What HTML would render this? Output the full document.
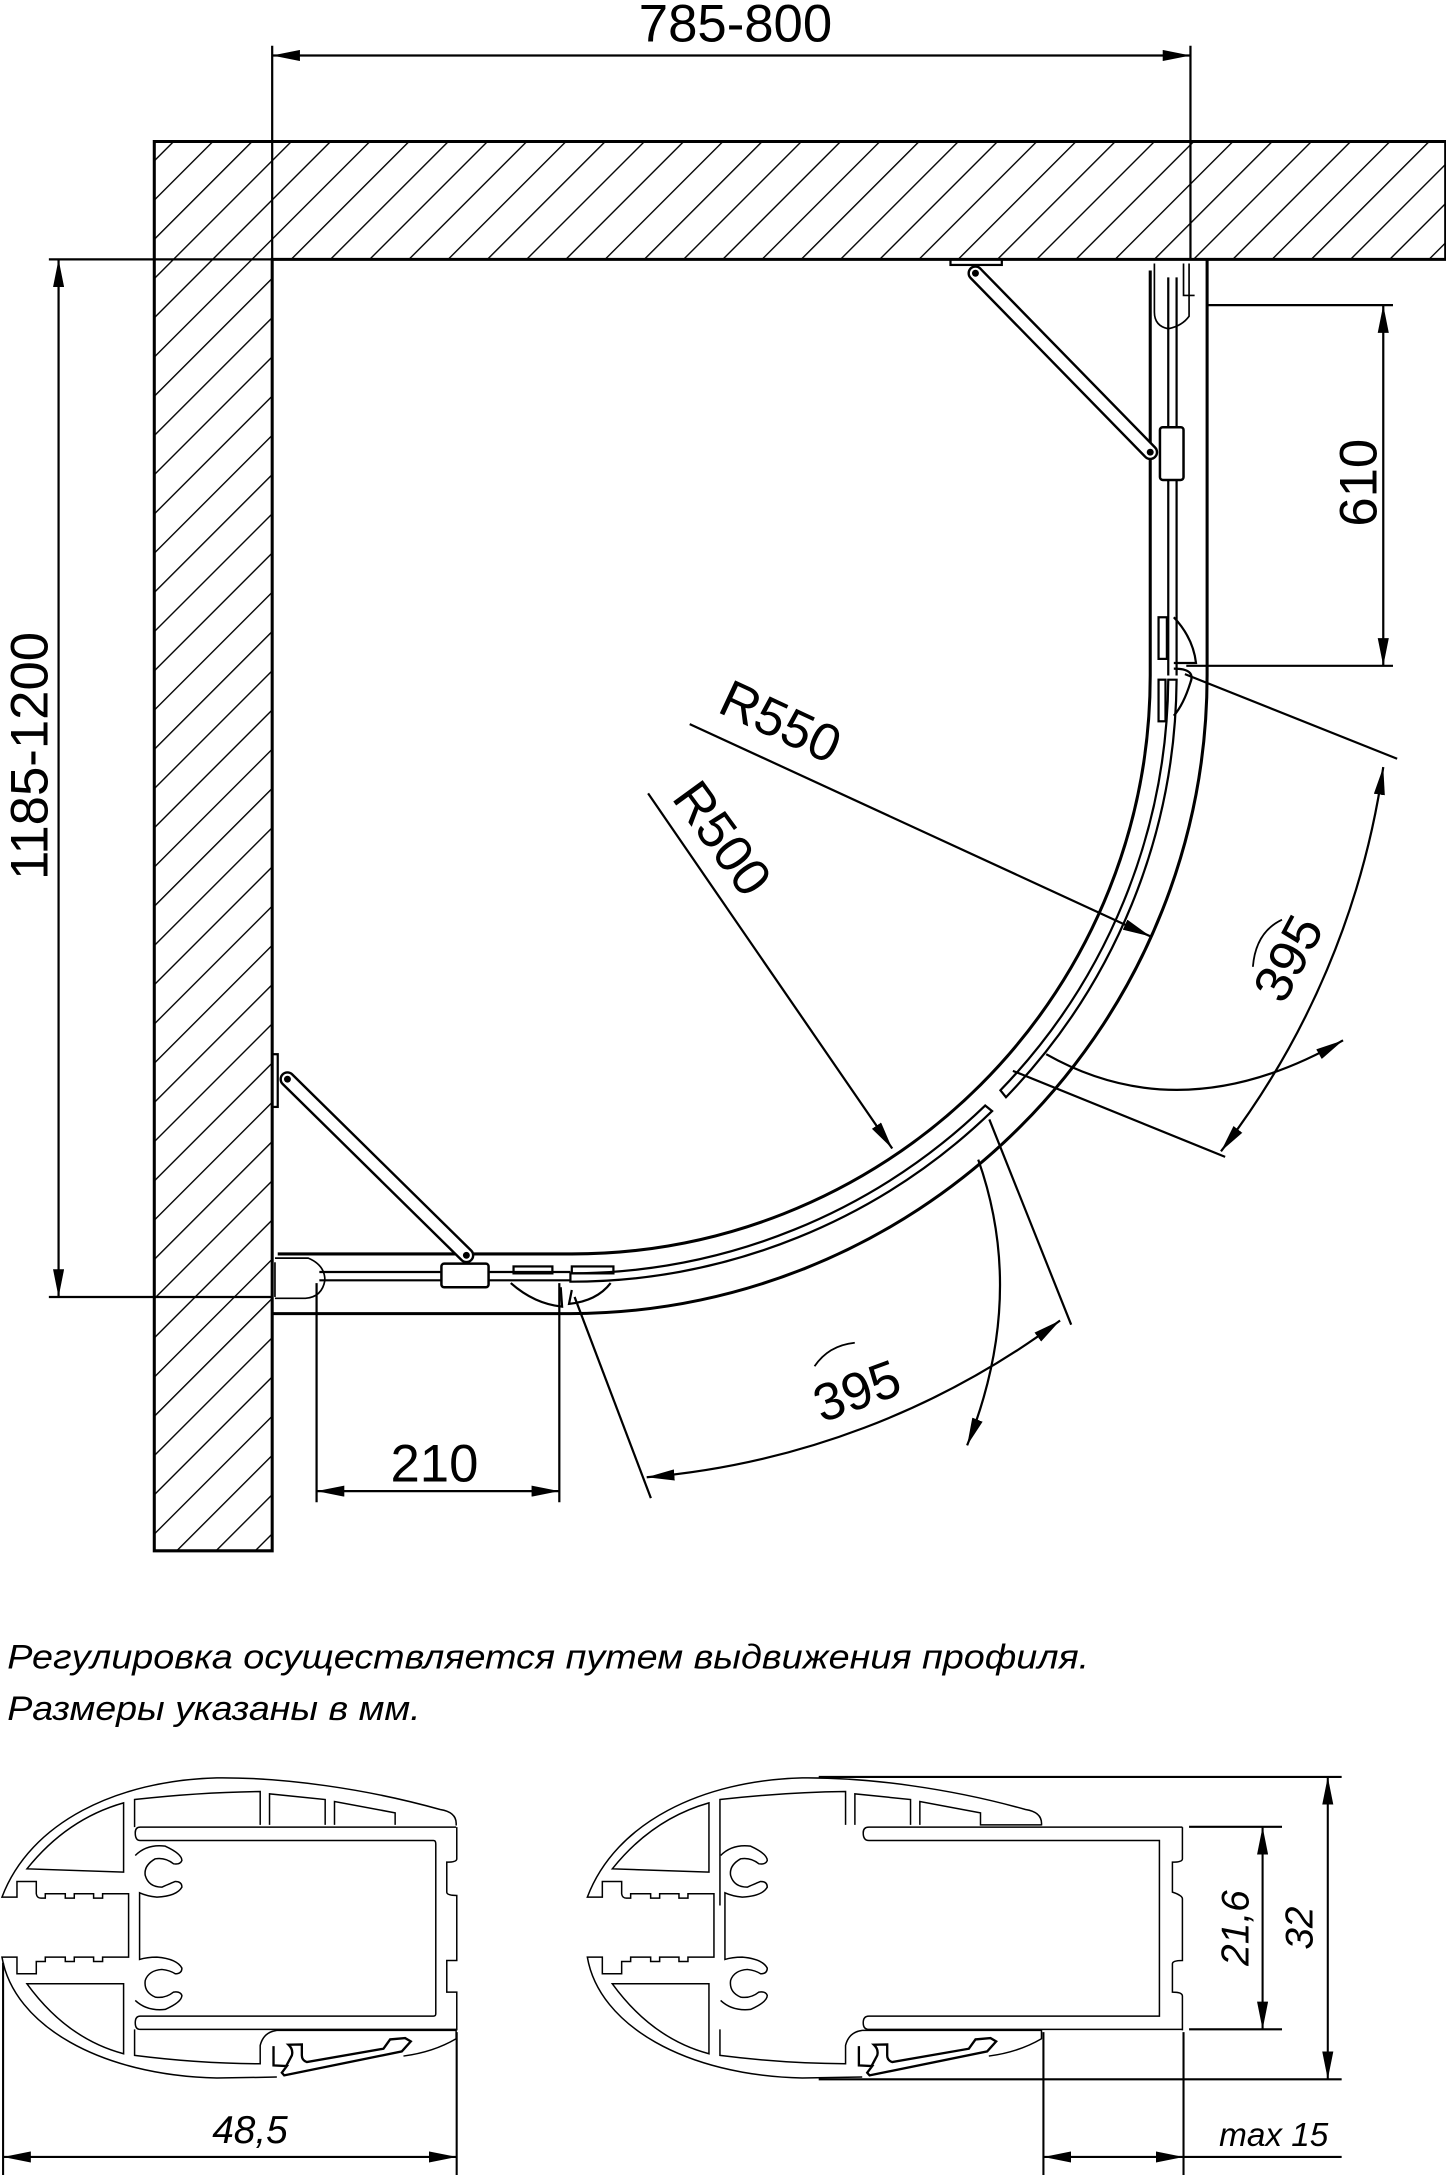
<!DOCTYPE html>
<html><head><meta charset="utf-8"><style>
html,body{margin:0;padding:0;background:#fff;}
svg{display:block;}
text{font-family:"Liberation Sans",sans-serif;fill:#000;}
</style></head><body>
<svg width="1446" height="2175" viewBox="0 0 1042 1568" xmlns="http://www.w3.org/2000/svg">
<defs>
<pattern id="h" width="20" height="20" patternUnits="userSpaceOnUse" patternTransform="rotate(45)">
<line x1="0" y1="-5" x2="0" y2="30" stroke="#000" stroke-width="2"/>
</pattern>
<marker id="a" viewBox="0 0 20 8" refX="20" refY="4" markerWidth="20" markerHeight="8" markerUnits="userSpaceOnUse" orient="auto-start-reverse">
<path d="M0,0 L20,4 L0,8 Z" fill="#000"/>
</marker>
</defs>

<path d="M111,102 H1042 V187 H196 V1118 H111 Z" fill="url(#h)" stroke="#000" stroke-width="2.2"/>

<g fill="none" stroke="#000" stroke-width="1.6">
<line x1="196" y1="33" x2="196" y2="187"/>
<line x1="858" y1="33" x2="858" y2="187"/>
<line x1="196" y1="40" x2="858" y2="40" marker-start="url(#a)" marker-end="url(#a)"/>
<line x1="35" y1="187" x2="196" y2="187"/>
<line x1="35" y1="935" x2="196" y2="935"/>
<line x1="42" y1="187" x2="42" y2="935" marker-start="url(#a)" marker-end="url(#a)"/>
<line x1="870" y1="220" x2="1004" y2="220"/>
<line x1="855" y1="480" x2="1004" y2="480"/>
<line x1="997" y1="220" x2="997" y2="480" marker-start="url(#a)" marker-end="url(#a)"/>
<line x1="228" y1="925" x2="228" y2="1083"/>
<line x1="403" y1="925" x2="403" y2="1083"/>
<line x1="228" y1="1075" x2="403" y2="1075" marker-start="url(#a)" marker-end="url(#a)"/>

<path d="M829,195 V487 A417,417 0 0 1 411,904 H200" stroke-width="2.2"/>
<path d="M870,187 V487 A460,460 0 0 1 411,947 H196" stroke-width="2.2"/>
<path d="M842,200 V487 M848,200 V487"/>
<path d="M230,917 H411 M230,923 H411"/>
<path d="M842,490 A431,431 0 0 1 721,786 L725,791 A437,437 0 0 0 848,490 Z"/>
<path d="M710,797 A431,431 0 0 1 411,918 L411,924 A437,437 0 0 0 715,801 Z"/>
<rect x="835" y="445" width="6" height="30"/>
<path d="M846,445 Q860,460 862,478 L846,478"/>
<rect x="835" y="490" width="5" height="30"/>
<path d="M846,482 Q862,482 858,492 Q853,508 846,516"/>
<rect x="370" y="913" width="28" height="5"/>
<rect x="412" y="913" width="30" height="5"/>
<path d="M368,925 Q385,940 405,942 L404,928"/>
<path d="M412,930 L410,940 Q430,938 440,925"/>
<rect x="836" y="308" width="17" height="38" rx="2" fill="#fff" stroke-width="1.8"/>
<rect x="318" y="911" width="34" height="17" rx="2" fill="#fff" stroke-width="1.8"/>
<path d="M832,190 V225 Q832,235 842,237 Q852,235 857,228 V190" stroke-width="1.2"/>
<path d="M853,190 V213 H861" stroke-width="1.2"/>
<path d="M198,907 H222 Q234,912 234,923 Q232,935 220,936 H198" stroke-width="1.2"/>
<path d="M198,910 V935" stroke-width="1.2"/>
<rect x="685" y="187" width="37" height="4"/>
<rect x="196" y="760" width="4" height="38"/>
</g>

<g stroke-linecap="round">
<line x1="703" y1="197" x2="829" y2="326" stroke="#000" stroke-width="11.5"/>
<line x1="703" y1="197" x2="829" y2="326" stroke="#fff" stroke-width="8"/>
<line x1="207" y1="778" x2="336" y2="905" stroke="#000" stroke-width="11.5"/>
<line x1="207" y1="778" x2="336" y2="905" stroke="#fff" stroke-width="8"/>
</g>
<g fill="#000">
<circle cx="703" cy="197" r="2.5"/><circle cx="829" cy="326" r="2.5"/>
<circle cx="207" cy="778" r="2.5"/><circle cx="336" cy="905" r="2.5"/>
</g>

<g fill="none" stroke="#000" stroke-width="1.6">
<line x1="497" y1="522" x2="829" y2="675" marker-end="url(#a)"/>
<line x1="467" y1="572" x2="643" y2="828" marker-end="url(#a)"/>
<line x1="854" y1="486" x2="1007" y2="547"/>
<line x1="730" y1="772" x2="883" y2="834"/>
<path d="M997,553 A590,590 0 0 1 880,830" marker-start="url(#a)" marker-end="url(#a)"/>
<path d="M754,760 Q853,816 968,750" marker-end="url(#a)"/>
<path d="M924,663 Q905,672 903,697" stroke-width="1.3"/>
<line x1="414" y1="935" x2="469" y2="1080"/>
<line x1="713" y1="807" x2="772" y2="955"/>
<path d="M466,1065 A582,582 0 0 0 764,952" marker-start="url(#a)" marker-end="url(#a)"/>
<path d="M705,836 Q740,935 697,1042" marker-end="url(#a)"/>
<path d="M587,985 Q597,970 616,968" stroke-width="1.3"/>
</g>

<text x="530" y="30" font-size="38" text-anchor="middle">785-800</text>
<text transform="translate(34,545) rotate(-90)" font-size="38" text-anchor="middle">1185-1200</text>
<text transform="translate(992,348) rotate(-90)" font-size="38" text-anchor="middle">610</text>
<text x="313" y="1068" font-size="38" text-anchor="middle">210</text>
<text transform="translate(557,532) rotate(25)" font-size="38" text-anchor="middle">R550</text>
<text transform="translate(510,612) rotate(54)" font-size="38" text-anchor="middle">R500</text>
<text transform="translate(940,697) rotate(-62)" font-size="38" text-anchor="middle">395</text>
<text transform="translate(622,1015) rotate(-20)" font-size="38" text-anchor="middle">395</text>

<text x="5" y="1203" font-size="25" font-style="italic" textLength="780" lengthAdjust="spacingAndGlyphs">Регулировка осуществляется путем выдвижения профиля.</text>
<text x="5" y="1240" font-size="25" font-style="italic" textLength="298" lengthAdjust="spacingAndGlyphs">Размеры указаны в мм.</text>

<g transform="translate(0,1268) scale(0.2402)" fill="none" stroke="#000" stroke-width="4.5">
<path d="M1368,200 Q1372,160 1320,152 C1100,90 850,55 650,57 C350,65 90,190 5,415 L50,415 L50,368 L108,368 L108,405 Q110,418 122,418 L135,418 L135,405 L195,405 L195,418 L222,418 L222,405 L280,405 L280,418 L307,418 L307,405 L385,405 L385,595 L307,595 L307,608 L280,608 L280,595 L222,595 L222,608 L195,608 L195,595 L135,595 L135,608 L108,608 L108,645 L50,645 L50,595 L5,595 C40,800 300,950 650,958 L830,955"/>
<path d="M80,330 Q200,180 370,132 L370,340 Z"/>
<path d="M80,675 L370,675 L370,885 Q200,840 80,675 Z"/>
<path d="M403,205 L403,122 Q600,100 780,98 L780,198 M808,198 L808,105 L975,122 L975,198 M1003,198 L1003,128 L1185,162 L1185,198"/>
<path d="M1368,205 L420,205 Q405,205 405,222 Q405,245 420,245 L1300,245 Q1307,245 1307,255 L1307,765 Q1307,772 1300,772 L420,772 Q405,772 405,792 Q405,812 420,812 L1368,812"/>
<path d="M1370,205 L1370,300 Q1370,310 1340,310 L1340,400 Q1340,410 1370,410 L1370,605 L1340,605 L1340,700 L1370,700 L1370,815"/>
<path d="M405,290 Q440,255 495,262 Q545,285 545,305 Q540,318 520,315 Q495,295 465,300 Q430,320 435,350 Q445,385 485,385 Q515,372 525,368 Q545,368 545,385 Q530,412 470,415 Q440,412 418,402 L418,602 Q440,595 470,595 Q530,600 545,628 Q545,645 525,645 Q510,635 485,632 Q445,635 435,665 Q430,700 465,715 Q495,720 520,700 Q540,697 545,710 Q545,730 495,752 Q440,758 405,725"/>
<path d="M403,812 L403,890 Q600,915 780,915 L780,860 Q790,820 830,815 L1368,815 L1368,840 Q1300,880 1210,892"/>
<path d="M820,862 L820,920 L860,922 L845,942 L852,950 L1205,878 L1232,848 L1215,838 L1170,842 L1150,870 L920,910 Q905,905 905,890 L905,857 L865,858 Q880,872 875,890 L858,922" stroke-width="7"/>
</g>

<g transform="translate(422,1268) scale(0.2402)" fill="none" stroke="#000" stroke-width="4.5">
<path d="M1368,200 Q1372,160 1320,152 C1100,90 850,55 650,57 C350,65 90,190 5,415 L50,415 L50,368 L108,368 L108,405 Q110,418 122,418 L135,418 L135,405 L195,405 L195,418 L222,418 L222,405 L280,405 L280,418 L307,418 L307,405 L385,405 L385,595 L307,595 L307,608 L280,608 L280,595 L222,595 L222,608 L195,608 L195,595 L135,595 L135,608 L108,608 L108,645 L50,645 L50,595 L5,595 C40,800 300,950 650,958 L830,955"/>
<path d="M80,330 Q200,180 370,132 L370,340 Z"/>
<path d="M80,675 L370,675 L370,885 Q200,840 80,675 Z"/>
<path d="M403,440 L403,122 Q600,100 780,98 L780,198 M808,198 L808,105 L975,122 L975,198 M1003,198 L1003,128 L1185,162 L1185,198 L1368,198"/>
<path d="M1791,205 L850,205 Q833,205 833,222 Q833,245 850,245 L1722,245 L1722,772 L850,772 Q833,772 833,792 Q833,812 850,812 L1791,812"/>
<path d="M1791,205 L1791,300 Q1791,310 1761,310 L1761,400 Q1791,410 1791,420 L1791,605 Q1761,605 1761,615 L1761,700 Q1791,700 1791,712 L1791,815"/>
<path d="M405,290 Q440,255 495,262 Q545,285 545,305 Q540,318 520,315 Q495,295 465,300 Q430,320 435,350 Q445,385 485,385 Q515,372 525,368 Q545,368 545,385 Q530,412 470,415 Q440,412 418,402 L418,602 Q440,595 470,595 Q530,600 545,628 Q545,645 525,645 Q510,635 485,632 Q445,635 435,665 Q430,700 465,715 Q495,720 520,700 Q540,697 545,710 Q545,730 495,752 Q440,758 405,725"/>
<path d="M403,812 L403,890 Q600,915 780,915 L780,860 Q790,820 830,815 L1368,815 L1368,840 Q1300,880 1210,892"/>
<path d="M820,862 L820,920 L860,922 L845,942 L852,950 L1205,878 L1232,848 L1215,838 L1170,842 L1150,870 L920,910 Q905,905 905,890 L905,857 L865,858 Q880,872 875,890 L858,922" stroke-width="7"/>
</g>

<g fill="none" stroke="#000" stroke-width="1.5">
<line x1="2" y1="1415" x2="2" y2="1568"/>
<line x1="329" y1="1465" x2="329" y2="1568"/>
<line x1="2" y1="1555" x2="329" y2="1555" marker-start="url(#a)" marker-end="url(#a)"/>
<line x1="590" y1="1281" x2="967" y2="1281"/>
<line x1="590" y1="1499" x2="967" y2="1499"/>
<line x1="957" y1="1281" x2="957" y2="1499" marker-start="url(#a)" marker-end="url(#a)"/>
<line x1="857" y1="1317" x2="924" y2="1317"/>
<line x1="857" y1="1463" x2="924" y2="1463"/>
<line x1="910" y1="1317" x2="910" y2="1463" marker-start="url(#a)" marker-end="url(#a)"/>
<line x1="752" y1="1465" x2="752" y2="1568"/>
<line x1="853" y1="1465" x2="853" y2="1568"/>
<line x1="752" y1="1555" x2="853" y2="1555" marker-start="url(#a)" marker-end="url(#a)"/>
<line x1="853" y1="1555" x2="967" y2="1555"/>
</g>
<text x="180" y="1545" font-size="28" font-style="italic" text-anchor="middle">48,5</text>
<text x="918" y="1547" font-size="24" font-style="italic" text-anchor="middle">max 15</text>
<text transform="translate(946,1390) rotate(-90)" font-size="28" font-style="italic" text-anchor="middle">32</text>
<text transform="translate(900,1390) rotate(-90)" font-size="28" font-style="italic" text-anchor="middle">21,6</text>
</svg>
</body></html>
